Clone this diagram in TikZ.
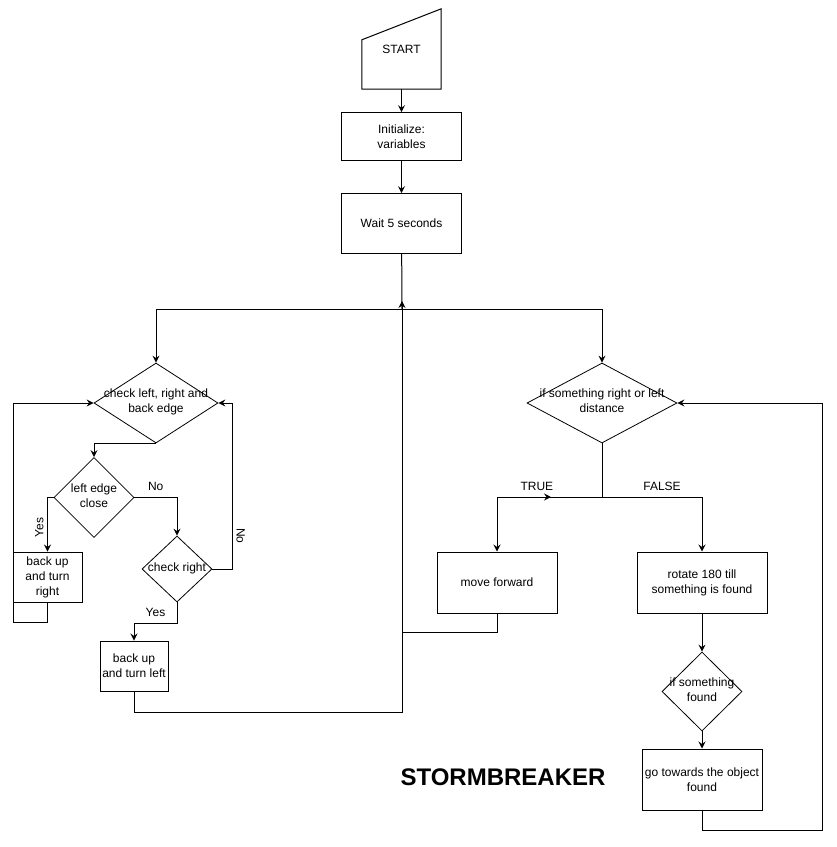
\documentclass[tikz,border=0pt]{standalone}
\usepackage{fontspec}
\setmainfont{Liberation Sans}
\usetikzlibrary{arrows.meta,positioning,shapes.geometric,calc,decorations.markings}
% text of a diamond, kept out of the shape size
\newcommand{\dtext}[1]{\smash{\makebox[0pt]{\raisebox{-2pt}{\begin{tabular}{@{}c@{}}#1\end{tabular}}}}}
\tikzset{
    >={Stealth[length=7pt,width=7pt,inset=2.5pt]},
    procbox/.style={
        rectangle,
        draw=black, line width=1pt,
        minimum width=120pt,
        minimum height=61pt,
        inner sep=2pt,
        align=center,
        font=\fontsize{12}{15}\selectfont
    },
    decision/.style={
        diamond,
        draw=black, line width=0.8pt,
        inner sep=0pt,
        font=\fontsize{12}{15}\selectfont
    },
    line/.style={draw, line width=1pt, ->},
    plain/.style={draw, line width=1pt},
    lbl/.style={font=\fontsize{12}{14}\selectfont, inner sep=1pt},
    rlbl/.style={lbl, inner sep=3.5pt, anchor=south}
}
\begin{document}
\begin{tikzpicture}[x=1pt, y=-1pt]
\useasboundingbox (0,0) rectangle (837,847);
% top of the chart
\node[minimum width=79pt, minimum height=80pt, inner sep=0pt,
      font=\fontsize{12}{15}\selectfont] (start) at (401.5,49) {START};
\draw[line width=1pt] (start.south west) -- (start.south east) -- (start.north east)
    -- ($(start.north west)+(0,31)$) -- cycle;
\node[procbox, minimum height=48pt, below=23pt of start] (init) {Initialize:\\variables};
\node[procbox, minimum height=60pt, below=32pt of init] (wait) {Wait 5 seconds};

\coordinate (fork) at (402,309);
\coordinate (rettip) at (402,301);
\coordinate (ret) at (402,712);
\coordinate (fwdjoin) at (402,632);
\coordinate (tfsplit) at (602,497);
\coordinate (brcorner) at (13,622);
\coordinate (gtcorner) at (822,830);

% left side: edges
\node[decision, minimum width=124pt, minimum height=80pt] (edges) at (156,403)
    {\dtext{check left, right and\\back edge}};
\node[decision, minimum width=80pt, minimum height=80pt] (leftedge) at (94,497.5)
    {\dtext{left edge\\close}};
\node[decision, minimum width=70pt, minimum height=66pt] (chkright) at (177,569)
    {\dtext{check right}};
\node[procbox, minimum width=69pt, minimum height=50pt] (backright) at (47.5,577)
    {back up\\and turn\\right};
\node[procbox, minimum width=68pt, minimum height=50pt] (backleft) at (134,666)
    {back up\\and turn left};

% right side: objects
\node[decision, minimum width=150pt, minimum height=80pt] (object) at (602,403)
    {\dtext{if something right or left\\distance}};
\node[procbox] (forward) at (497,582.5) {move forward};
\node[procbox, minimum width=130pt] (rotate) at (702,582.5) {rotate 180 till\\something is found};
\node[decision, minimum width=80pt, minimum height=79pt] (found) at (702,691.5)
    {\dtext{if something\\found}};
\node[procbox] (goto) at (702,779.5) {go towards the object\\found};

\node[font=\bfseries\fontsize{24}{28}\selectfont] (title) at (503,777) {STORMBREAKER};

% connectors
\draw[line] (start) -- (init);
\draw[line] (init) -- (wait);
\draw[plain] (wait) -- (fork);
\draw[line] (fork) -| (edges);
\draw[line] (fork) -| (object);

\draw[line] (edges.south) -| (leftedge.north);
\draw[line] (leftedge.west) -| node[rlbl, pos=0.78, rotate=90] {Yes} (backright.north);
\draw[line] (backright.south) |- (brcorner) |- (edges.west);
\draw[line] (leftedge.east) -| node[lbl, pos=0.25, above=5pt] {No} (chkright.north);
\draw[line] (chkright.east) -| node[rlbl, pos=0.6, rotate=-90] {No}
    ($(edges.east)+(14,0)$) -- (edges.east);
\draw[line] (chkright.south) |- node[lbl, pos=0.75, above=5pt] {Yes}
    ($(backleft.north)+(0,-17)$) -- (backleft.north);
\draw[line] (backleft.south) |- (ret) -- (rettip);
\draw[plain] (forward.south) |- (fwdjoin);

\draw[plain] (object.south) -- (tfsplit);
\draw[line, postaction={decorate},
      decoration={markings, mark=at position 58pt with {\arrow{<}}}]
    (tfsplit) -| node[lbl, pos=0.31, above=5pt] {TRUE} (forward.north);
\draw[line] (tfsplit) -| node[lbl, pos=0.3, above=5pt] {FALSE} (rotate.north);
\draw[line] (rotate) -- (found);
\draw[line] (found) -- (goto);
\draw[line] (goto.south) |- (gtcorner) |- (object.east);
\end{tikzpicture}
\end{document}
